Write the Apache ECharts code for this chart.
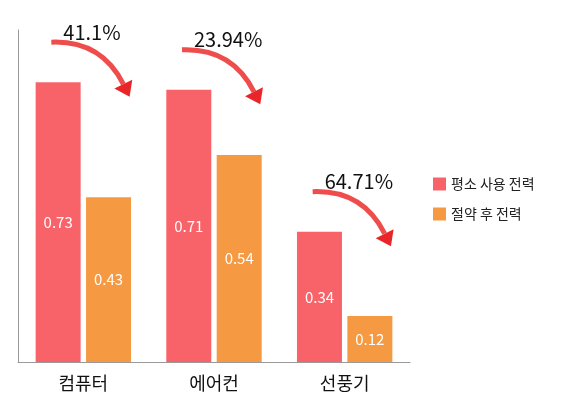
<!DOCTYPE html>
<html><head><meta charset="utf-8">
<script src="https://cdn.jsdelivr.net/npm/echarts@6/dist/echarts.min.js"></script>
<style>html,body{margin:0;padding:0;background:#fff}#c{width:565px;height:406px}</style>
</head><body><div id="c"></div>
<script>
const categories = ['컴퓨터','에어컨','선풍기'];
const normalUse = [0.73, 0.71, 0.34];
const savedUse = [0.43, 0.54, 0.12];
const savingPct = ['41.1%','23.94%','64.71%'];
const seriesNames = ['평소 사용 전력','절약 후 전력'];
const font = '"Noto Sans CJK KR","Noto Sans",sans-serif';
const chart = echarts.init(document.getElementById('c'));
chart.setOption({
  animation:false,
  legend:{orient:'vertical',left:428,top:172,itemWidth:13,itemHeight:13,itemGap:16,
    textStyle:{fontFamily:font,fontSize:14,color:'#222'},icon:'rect'},
  grid:{left:18,right:155,top:30,bottom:44},
  xAxis:{type:'category',data:categories,axisTick:{show:false},
    axisLine:{lineStyle:{color:'#999'}},
    axisLabel:{fontFamily:font,fontSize:18,color:'#111',margin:12}},
  yAxis:{type:'value',min:0,max:0.866,axisLine:{show:true,lineStyle:{color:'#999'}},
    splitLine:{show:false},axisLabel:{show:false},axisTick:{show:false}},
  series:[
    {name:seriesNames[0],type:'bar',data:normalUse,barWidth:45,barGap:'12%',itemStyle:{color:'#f8636a'},
     label:{show:true,position:'inside',color:'#fff',fontSize:15,fontFamily:font}},
    {name:seriesNames[1],type:'bar',data:savedUse,barWidth:45,itemStyle:{color:'#f59a42'},
     label:{show:true,position:'inside',color:'#fff',fontSize:15,fontFamily:font}}
  ]
});
const g=[];
categories.forEach((c,i)=>{
  const cx=chart.convertToPixel({xAxisIndex:0},c);
  const top=chart.convertToPixel({yAxisIndex:0},normalUse[i]);
  const ty=Math.max(20,top-50);
  g.push({type:'text',x:cx-20,y:ty,style:{text:savingPct[i],fontSize:20,fontFamily:font,fill:'#111',verticalAlign:'middle'}});
  const x1=cx-32,y1=top-40,x2=cx+40,y2=top+2,qx=cx+18,qy=top-42;
  g.push({type:'bezierCurve',shape:{x1,y1,x2,y2,cpx1:qx,cpy1:qy},style:{stroke:'#ec3a38',lineWidth:5,fill:null,opacity:0.9}});
  let dx=x2-qx,dy=y2-qy;const L=Math.hypot(dx,dy);dx/=L;dy/=L;
  const tx=x2+dx*14,tyy=y2+dy*14,px=-dy,py=dx;
  g.push({type:'polygon',shape:{points:[[tx,tyy],[x2+px*10,y2+py*10],[x2-px*10,y2-py*10]]},style:{fill:'#e8262a'}});
});
chart.setOption({graphic:g});
</script></body></html>
